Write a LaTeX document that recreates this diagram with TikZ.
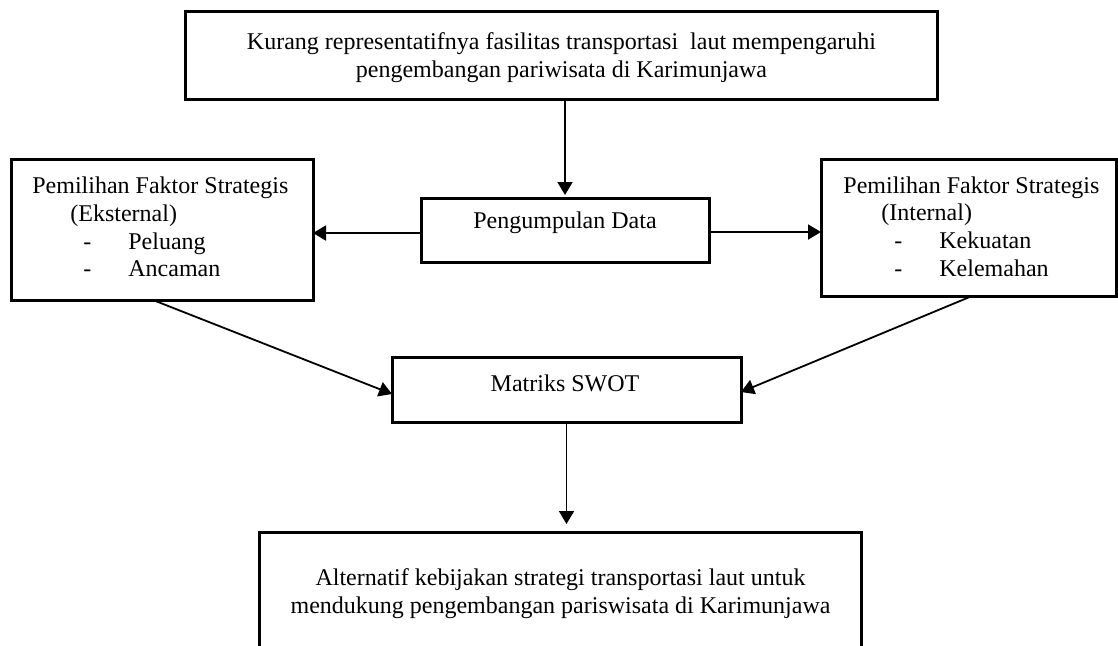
\documentclass[tikz,border=0pt]{standalone}
\usepackage{fontspec}
\setmainfont{Liberation Serif}
\usetikzlibrary{arrows.meta}
\begin{document}
\begin{tikzpicture}[x=0.5pt,y=-0.5pt,
  box/.style={draw, line width=1.5pt, rectangle, inner sep=0pt, outer sep=0pt},
  txt/.style={inner sep=0pt, font=\fontsize{12pt}{13.8pt}\selectfont},
  conn/.style={line width=0.9pt, -{Triangle[length=6.5pt,width=7.5pt]}}]
\useasboundingbox (0,0) rectangle (1118,645);
% boxes
\node[box, minimum width=376pt, minimum height=44pt] (top) at (561,55) {};
\node[box, minimum width=151pt, minimum height=70.5pt] (left) at (162,229.5) {};
\node[box, minimum width=144pt, minimum height=32pt] (peng) at (565,230) {};
\node[box, minimum width=147.5pt, minimum height=68.5pt] (right) at (968.5,227.5) {};
\node[box, minimum width=174.5pt, minimum height=32.5pt] (swot) at (566.5,389.5) {};
\node[box, minimum width=301pt, minimum height=59pt] (bottom) at (560,591) {};
% texts
\node[txt, align=center] (topt) at (561.5,57.5) {Kurang representatifnya fasilitas transportasi\ \ laut mempengaruhi\\pengembangan pariwisata di Karimunjawa};
\node[txt, align=left, anchor=west] (leftt) at (32,227) {Pemilihan Faktor Strategis\\\hspace*{19pt}(Eksternal)\\\hspace*{25.5pt}\makebox[22.5pt][l]{-}Peluang\\\hspace*{25.5pt}\makebox[22.5pt][l]{-}Ancaman};
\node[txt] (pengt) at (565,223) {Pengumpulan Data};
\node[txt, align=left, anchor=west] (rightt) at (843,226.5) {Pemilihan Faktor Strategis\\\hspace*{19pt}(Internal)\\\hspace*{25.5pt}\makebox[22.5pt][l]{-}Kekuatan\\\hspace*{25.5pt}\makebox[22.5pt][l]{-}Kelemahan};
\node[txt] (swott) at (565,383) {Matriks SWOT};
\node[txt, align=center] (bottomt) at (560.5,593.5) {Alternatif kebijakan strategi transportasi laut untuk\\mendukung pengembangan pariswisata di Karimunjawa};
% connectors
\draw[conn, shorten >=1.5pt] (peng.north |- top.south) -- (peng.north);
\draw[conn] ([yshift=-1.5pt]peng.west) -- ([yshift=-1.5pt]peng.west -| left.east);
\draw[conn] ([yshift=-1pt]peng.east) -- ([yshift=-1pt]peng.east -| right.west);
\draw[conn] ([xshift=-4.5pt]left.south) -- ([yshift=-2.25pt]swot.west);
\draw[conn] ([xshift=1.75pt]right.south) -- ([yshift=-1.25pt]swot.east);
\draw[conn, shorten >=4pt] (swot.south) -- (swot.south |- bottom.north);
\end{tikzpicture}
\end{document}
